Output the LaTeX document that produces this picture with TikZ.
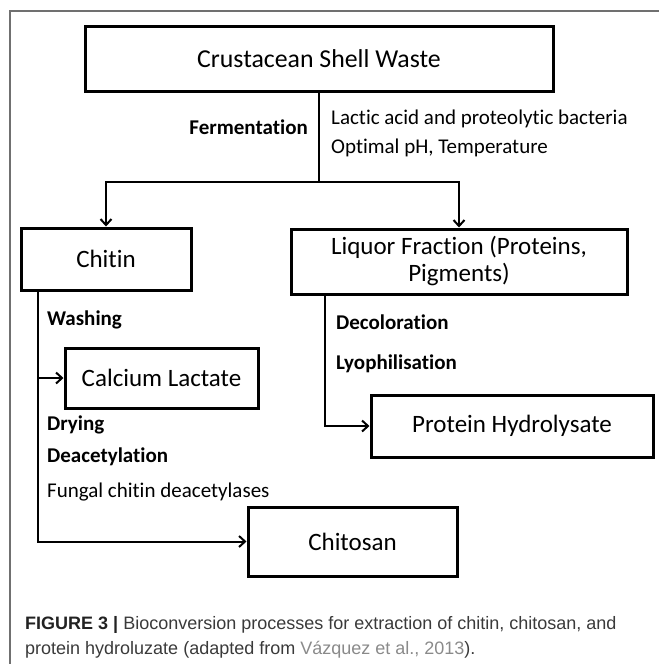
\documentclass[tikz,border=0pt]{standalone}
\usepackage{fontspec}
\setmainfont{Carlito}[Ligatures=CommonOff]
\newfontfamily\capfont{Liberation Sans}
\usetikzlibrary{arrows.meta}
\definecolor{frameg}{HTML}{707070}
\definecolor{capg}{HTML}{3A3A3A}
\definecolor{capb}{HTML}{222222}
\definecolor{linkg}{HTML}{8A8A8A}
\begin{document}
\begin{tikzpicture}[x=1pt,y=-1pt,
  box/.style={draw, line width=3pt, inner sep=0pt, font=\fontsize{25}{27}\selectfont, align=center},
  lbl/.style={anchor=base west, inner sep=0pt, font=\fontsize{21}{25}\selectfont},
  blbl/.style={anchor=base west, inner sep=0pt, font=\fontsize{21}{25}\selectfont\bfseries},
  conn/.style={line width=2pt},
  arr/.style={line width=2pt, -{Straight Barb[length=6pt,width=11pt]}},
  captext/.style={anchor=base west, inner sep=0pt, font=\capfont\fontsize{18}{22}\selectfont, text=capg},
]
\useasboundingbox (0,0) rectangle (659,664);
\draw[frameg, line width=1.5pt] (10,664) -- (10,11) -- (659,11);

\node[box, font=\fontsize{25.8}{28}\selectfont, minimum width=468pt, minimum height=65pt] (waste) at (319,58.5) {Crustacean Shell Waste};
\node[box, minimum width=170pt, minimum height=62pt] (chitin) at (106,259) {Chitin};
\node[box, minimum width=336pt, minimum height=65pt] (liquor) at (459,261.5) {Liquor Fraction (Proteins,\\Pigments)};
\node[box, minimum width=193pt, minimum height=60pt] (calcium) at (161.5,378) {Calcium Lactate};
\node[box, minimum width=282pt, minimum height=62pt] (protein) at (512,426) {Protein Hydrolysate};
\node[box, minimum width=209pt, minimum height=69pt] (chitosan) at (352.5,541.5) {Chitosan};

\coordinate (split) at (319,182);
\draw[conn] (waste.south) -- (split);
\draw[arr] (split) -| (chitin.north);
\draw[arr] (split) -| (liquor.north);

\coordinate (cstart) at ([xshift=-68pt]chitin.south);
\coordinate (ccorner) at (cstart |- chitosan.west);
\draw[arr] (cstart) -- (ccorner) -- (chitosan.west);
\draw[arr] (cstart |- calcium.west) -- (calcium.west);

\coordinate (lstart) at ([xshift=-134pt]liquor.south);
\draw[arr] (lstart) |- (protein.west);

\node[blbl, anchor=base east] (ferm) at (308,134) {Fermentation};
\node[lbl] (lactic) at (331,124) {Lactic acid and proteolytic bacteria};
\node[lbl] (optimal) at (331,153) {Optimal pH, Temperature};
\node[blbl] (wash) at (47,325) {Washing};
\node[blbl] (dry) at (47,430) {Drying};
\node[blbl] (deac) at (47,462) {Deacetylation};
\node[lbl] (fungal) at (47,497) {Fungal chitin deacetylases};
\node[blbl] (decol) at (336,329) {Decoloration};
\node[blbl] (lyo) at (336,369) {Lyophilisation};

\node[captext] (cap1) at (25,629) {\textcolor{capb}{\bfseries FIGURE 3 |} Bioconversion processes for extraction of chitin, chitosan, and};
\node[captext] (cap2) at (25,654) {protein hydroluzate (adapted from \textcolor{linkg}{Vázquez et al., 2013}).};
\end{tikzpicture}
\end{document}
